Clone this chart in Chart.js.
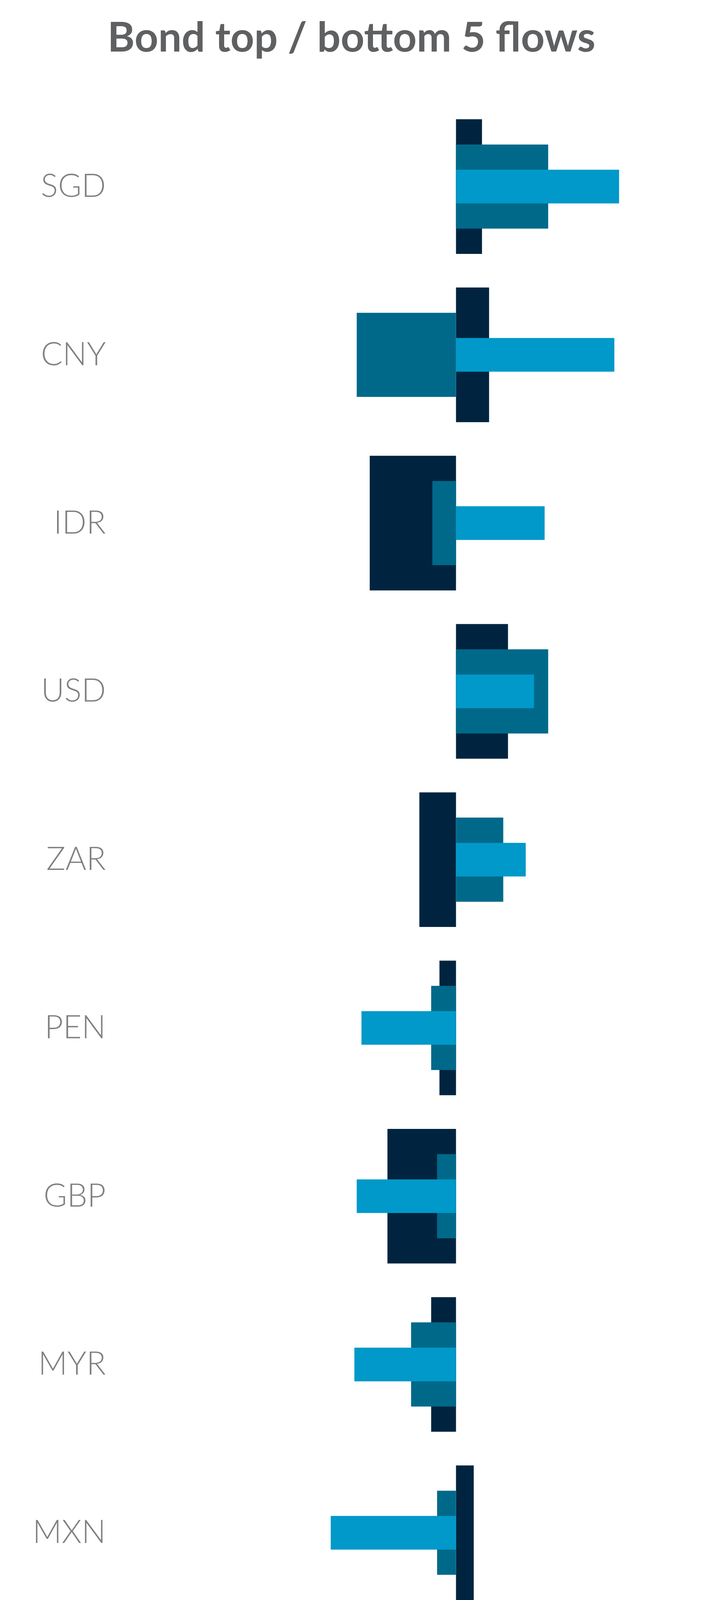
<!DOCTYPE html>
<html>
<head>
<meta charset="utf-8">
<title>Bond top / bottom 5 flows</title>
<script src="https://cdn.jsdelivr.net/npm/chart.js@4.4.1/dist/chart.umd.min.js"></script>
<style>
  body { margin: 0; background: #ffffff; overflow: hidden; }
  #wrap { position: relative; width: 1800px; height: 5196px; font-family: Lato, "Open Sans", sans-serif; }
  #wrap canvas { position: absolute; left: 0; top: 0; }
  #legend { position: absolute; left: 80px; top: 4789px; }
  .item { display: flex; align-items: center; height: 66px; margin-bottom: 64px; }
  .box { width: 55px; height: 66px; margin-right: 23px; }
  .lbl { font-size: 74px; line-height: 66px; color: #5f5f5f; font-weight: 400; }
  #note { position: absolute; left: 763px; top: 4888px; font-size: 73px; line-height: 86px; color: #5f5f5f; white-space: pre; }
</style>
</head>
<body>
<div id="wrap">
  <canvas id="flows"></canvas>
  <div id="legend"></div>
  <div id="note">Data as of 2025-05-16
Sources:  BNY, MSCI</div>
</div>
<script>
const categories = ['SGD', 'CNY', 'IDR', 'USD', 'ZAR', 'PEN', 'GBP', 'MYR', 'MXN', 'SEK'];
const weekFlows = [0.69, 0.67, 0.375, 0.33, 0.295, -0.40, -0.42, -0.43, -0.53, -1.18];
const monthFlows = [0.39, -0.42, -0.10, 0.39, 0.20, -0.105, -0.08, -0.19, -0.08, -0.385];
const quarterFlows = [0.11, 0.14, -0.365, 0.22, -0.155, -0.07, -0.29, -0.105, 0.075, -0.61];
const tickValues = [-1.0, -0.5, 0.0, 0.5];

const greyText = '#808080';

const ctx = document.getElementById('flows').getContext('2d');

const chart = new Chart(ctx, {
    type: 'bar',
    data: {
        labels: categories,
        datasets: [
            { label: 'Week', data: weekFlows, backgroundColor: '#0099c9', barPercentage: 0.2 },
            { label: 'Month', data: monthFlows, backgroundColor: '#00698a', barPercentage: 0.5 },
            { label: 'Quarter', data: quarterFlows, backgroundColor: '#00243f', barPercentage: 0.8 }
        ]
    },
    options: {
        indexAxis: 'y',
        responsive: true,
        maintainAspectRatio: false,
        animation: false,
        grouped: false,
        categoryPercentage: 1.0,
        layout: {
            padding: { left: 0, right: 0, top: 0, bottom: 506 }
        },
        scales: {
            x: {
                min: -1.45,
                max: 1.045,
                grid: { display: false, drawTicks: false },
                border: { display: false },
                afterBuildTicks: (scale) => {
                    scale.ticks = tickValues.map(v => ({ value: v }));
                },
                afterFit: (scale) => { scale.height = 120; },
                ticks: {
                    color: '#888888',
                    padding: 14,
                    font: { family: 'Lato', size: 85, weight: 300 },
                    callback: (v) => Number(v).toFixed(1)
                }
            },
            y: {
                grid: { display: false, drawTicks: false },
                border: { display: false },
                afterFit: (scale) => { scale.width = 290; },
                ticks: {
                    color: greyText,
                    padding: 19,
                    font: { family: 'Lato', size: 82, weight: 300 }
                }
            }
        },
        plugins: {
            legend: { display: false },
            tooltip: { enabled: false },
            title: {
                display: true,
                text: 'Bond top / bottom 5 flows',
                color: '#5f6062',
                font: { family: 'Lato', size: 106, weight: 'bold' },
                padding: { top: 34, bottom: 101 }
            }
        }
    }
});

// legende in HTML, gebaut aus den Datensätzen
const legend = document.getElementById('legend');
chart.data.datasets.forEach(ds => {
    const row = document.createElement('div');
    row.className = 'item';
    const box = document.createElement('div');
    box.className = 'box';
    box.style.background = ds.backgroundColor;
    const txt = document.createElement('span');
    txt.className = 'lbl';
    txt.textContent = ds.label;
    row.appendChild(box);
    row.appendChild(txt);
    legend.appendChild(row);
});
</script>
</body>
</html>
